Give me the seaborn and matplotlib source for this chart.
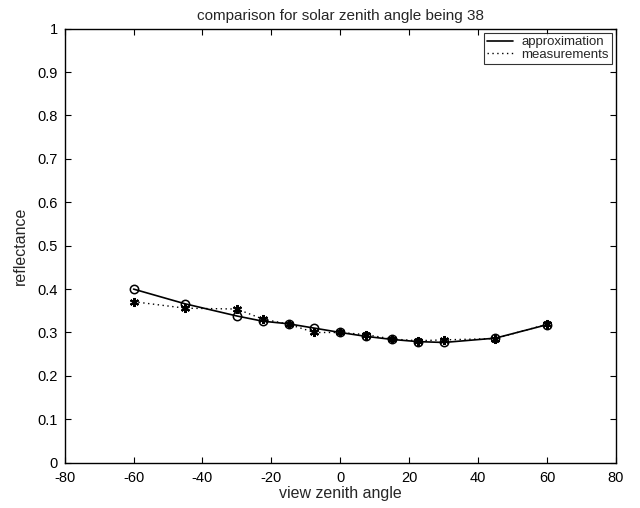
import numpy as np
import pandas as pd
import matplotlib
matplotlib.use("Agg")
import matplotlib.pyplot as plt
import seaborn as sns

angles = [-60, -45, -30, -22.5, -15, -7.5, 0, 7.5, 15, 22.5, 30, 45, 60]
approximation = [0.400, 0.366, 0.338, 0.326, 0.320, 0.310, 0.300, 0.291, 0.284, 0.279, 0.277, 0.287, 0.318]
measurements = [0.371, 0.356, 0.354, 0.331, 0.319, 0.300, 0.300, 0.295, 0.285, 0.281, 0.283, 0.286, 0.319]

sns.set_style("ticks")
plt.rcParams['font.family'] = ['Liberation Sans', 'DejaVu Sans']
plt.rcParams['axes.unicode_minus'] = False

fig = plt.figure(figsize=(6.4, 5.08), dpi=100)
ax = fig.add_axes([0.101, 0.0892, 0.8615, 0.8543])

df_a = pd.DataFrame({"x": angles, "y": approximation})
df_m = pd.DataFrame({"x": angles, "y": measurements})

sns.lineplot(data=df_a, x="x", y="y", ax=ax, color="black", linewidth=1.2,
             linestyle="-", label="approximation")
sns.lineplot(data=df_m, x="x", y="y", ax=ax, color="black", linewidth=1.0,
             linestyle=(0, (1, 2.5)), label="measurements")
ax.plot(df_a["x"], df_a["y"], linestyle="none", marker="o", markersize=6,
        markerfacecolor="none", markeredgecolor="black", markeredgewidth=1.1)
ax.plot(df_m["x"], df_m["y"], linestyle="none", marker=(6, 2, 0), markersize=6.5,
        markeredgecolor="black", markeredgewidth=1.5)

ax.set_xlim(-80, 80)
ax.set_ylim(0, 1)
ax.set_xticks(np.arange(-80, 81, 20))
ax.set_yticks(np.arange(0, 1.01, 0.1))
ax.set_yticklabels(["0", "0.1", "0.2", "0.3", "0.4", "0.5", "0.6", "0.7", "0.8", "0.9", "1"])
ax.tick_params(direction="in", top=True, right=True, length=4, width=0.8,
               labelsize=10.5, colors="black")
ax.tick_params(axis="x", pad=6)
ax.tick_params(axis="y", pad=5)
for s in ax.spines.values():
    s.set_visible(True)
    s.set_linewidth(1.0)
    s.set_color("black")

ax.set_xlabel("view zenith angle", fontsize=11.5, labelpad=1)
ax.set_ylabel("reflectance", fontsize=11.5, labelpad=7)
ax.set_title("comparison for solar zenith angle being 38", fontsize=11, pad=6)

leg = ax.legend(loc="upper right", fontsize=9.5, frameon=True, fancybox=False,
                borderaxespad=0.3, handlelength=2.0, borderpad=0.25,
                labelspacing=0.05, handletextpad=0.6)
leg.get_frame().set_edgecolor("black")
leg.get_frame().set_linewidth(0.8)

fig.savefig("out.png", dpi=100, facecolor="white")
